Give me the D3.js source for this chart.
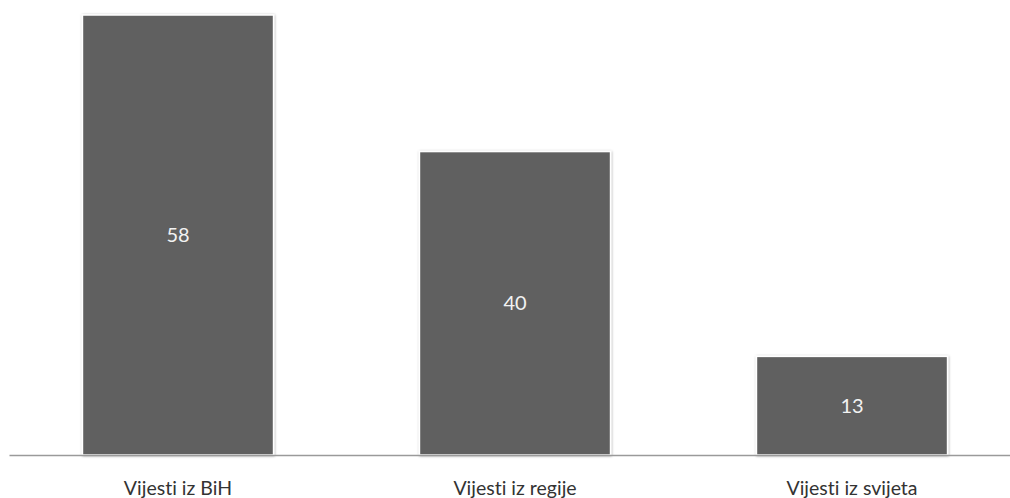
<!DOCTYPE html>
<html>
<head>
<meta charset="utf-8">
<script src="https://cdn.jsdelivr.net/npm/d3@7"></script>
<style>
  html, body { margin: 0; padding: 0; background: #fff; }
  svg { display: block; }
  text { font-variant-ligatures: none; font-feature-settings: "liga" 0, "dlig" 0; }
</style>
</head>
<body>
<svg id="chart" width="1010" height="498"></svg>
<script>
const categories = ["Vijesti iz BiH", "Vijesti iz regije", "Vijesti iz svijeta"];
const values = [58, 40, 13];

const svg = d3.select("#chart");

const defs = svg.append("defs");
const f = defs.append("filter").attr("id", "shadow").attr("x", "-10%").attr("y", "-10%").attr("width", "120%").attr("height", "120%");
f.append("feDropShadow").attr("dx", 0.5).attr("dy", 0.5).attr("stdDeviation", 1.2).attr("flood-color", "#000").attr("flood-opacity", 0.35);

const x = d3.scaleBand().domain(categories).range([9.5, 1020.5]).paddingInner(0.433).paddingOuter(0.2165);
const y = d3.scaleLinear().domain([0, 58]).range([455, 15]);

const data = categories.map((c, i) => ({ c, v: values[i] }));

svg.append("g").selectAll("rect").data(data).join("rect")
  .attr("x", d => x(d.c))
  .attr("y", d => y(d.v))
  .attr("width", x.bandwidth())
  .attr("height", d => y(0) - y(d.v))
  .attr("fill", "#606060")
  .attr("stroke", "#ffffff")
  .attr("stroke-width", 1.5)
  .attr("filter", "url(#shadow)");

// axis
const xAxis = d3.axisBottom(x).tickSize(0).tickPadding(26);
const gx = svg.append("g").attr("transform", `translate(0,${y(0)})`).call(xAxis);
gx.select(".domain").attr("stroke", "#9a9a9a").attr("stroke-width", 1.5).attr("d", "M9.5,0.5H1010");
gx.selectAll("text").attr("font-family", "Lato, 'Open Sans', sans-serif").attr("font-size", 19.5).attr("fill", "#333");

svg.append("g").selectAll("text").data(data).join("text")
  .attr("x", d => x(d.c) + x.bandwidth() / 2)
  .attr("y", d => (y(d.v) + y(0)) / 2)
  .attr("dy", "0.35em")
  .attr("text-anchor", "middle")
  .attr("font-family", "Lato, 'Open Sans', sans-serif")
  .attr("font-size", 20)
  .attr("fill", "#f2f2f2")
  .text(d => d.v);
</script>
</body>
</html>
